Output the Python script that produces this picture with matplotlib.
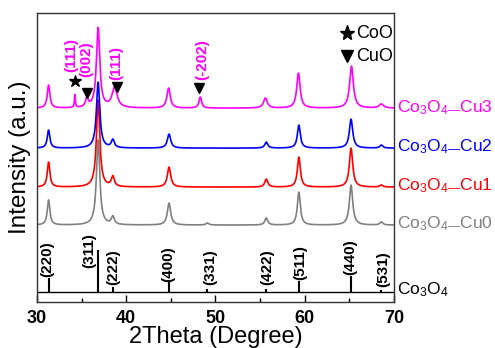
import numpy as np
import matplotlib
matplotlib.use('Agg')
import matplotlib.pyplot as plt

plt.rcParams['font.family'] = 'Liberation Sans'
plt.rcParams['mathtext.fontset'] = 'custom'
plt.rcParams['mathtext.rm'] = 'Liberation Sans'
plt.rcParams['mathtext.it'] = 'Liberation Sans:italic'

# peak lists: centre (2theta), height above baseline, FWHM
cu0_base = 77
cu0_pos = [31.3, 36.85, 38.5, 44.8, 49.1, 55.7, 59.35, 65.2, 68.6]
cu0_h = [25, 85, 8, 22, 2, 7, 33, 40, 3]
cu0_w = [0.35, 0.45, 0.4, 0.45, 0.4, 0.4, 0.4, 0.45, 0.4]

cu1_base = 115
cu1_pos = [31.3, 36.85, 38.5, 44.8, 55.7, 59.35, 65.2, 68.6]
cu1_h = [25, 87, 10, 20, 8, 30, 39, 2]
cu1_w = [0.35, 0.45, 0.4, 0.45, 0.4, 0.4, 0.45, 0.4]

cu2_base = 154
cu2_pos = [31.3, 36.85, 38.5, 44.8, 55.7, 59.35, 65.2, 68.6]
cu2_h = [18, 66, 8, 14, 6, 23, 29, 3]
cu2_w = [0.35, 0.45, 0.4, 0.45, 0.4, 0.4, 0.45, 0.4]

cu3_base = 194
cu3_pos = [31.3, 34.25, 35.6, 36.85, 38.7, 44.75, 48.3, 55.6, 59.3, 65.25, 68.6]
cu3_h = [23, 13, 9, 80, 20, 20, 11, 10, 35, 42, 4]
cu3_w = [0.35, 0.12, 0.35, 0.45, 0.7, 0.45, 0.35, 0.5, 0.45, 0.5, 0.6]

# Co3O4 reference pattern (sticks)
ref_base = 10
ref_pos = [31.3, 36.85, 38.5, 44.8, 49.1, 55.7, 59.35, 65.2, 68.6]
ref_h = [14, 42, 5, 12, 3, 3, 11, 16, 2]
ref_hkl = ['(220)', '(311)', '(222)', '(400)', '(331)', '(422)', '(511)', '(440)', '(531)']
ref_lab_x = [31.1, 35.9, 38.5, 44.7, 49.4, 55.8, 59.5, 65.1, 68.8]
ref_lab_y = [25, 34, 17, 20, 17, 17, 22, 27, 15]

# CoO / CuO peaks marked on Cu3
coo_pos = [34.3]
coo_y = [221]
cuo_pos = [35.6, 39.0, 48.2]
cuo_y = [209, 215, 214]
cu3_hkl = ['(111)', '(002)', '(111)', '(-202)']
cu3_lab_x = [33.8, 35.5, 38.9, 48.5]
cu3_lab_y = [230, 225, 222, 222]

names = [r'Co$_3$O$_{4—}$Cu0', r'Co$_3$O$_{4—}$Cu1', r'Co$_3$O$_{4—}$Cu2', r'Co$_3$O$_{4—}$Cu3']
colors = ['#808080', '#ff0000', '#0000ff', '#ff00ff']


def pattern(x, base, pos, h, w):
    y = np.full_like(x, float(base))
    for c, a, fw in zip(pos, h, w):
        y += a / (1 + ((x - c) / (fw / 2)) ** 2)
    return y


x = np.linspace(30, 70, 2000)
curves = [
    pattern(x, cu0_base, cu0_pos, cu0_h, cu0_w),
    pattern(x, cu1_base, cu1_pos, cu1_h, cu1_w),
    pattern(x, cu2_base, cu2_pos, cu2_h, cu2_w),
    pattern(x, cu3_base, cu3_pos, cu3_h, cu3_w),
]
bases = [cu0_base, cu1_base, cu2_base, cu3_base]

fig = plt.figure(figsize=(4.95, 3.48), dpi=100)
ax = fig.add_axes([0.0747, 0.132, 0.721, 0.830])

for y, col in zip(curves, colors):
    ax.plot(x, y, color=col, lw=1.2)

# reference sticks
ax.plot([30, 70], [ref_base, ref_base], color='black', lw=1)
ax.vlines(ref_pos, ref_base, [ref_base + h for h in ref_h], color='black', lw=1.5)
for t, lx, ly in zip(ref_hkl, ref_lab_x, ref_lab_y):
    ax.text(lx, ly, t, rotation=90, ha='center', va='bottom',
            fontsize=11, fontweight='bold', color='black')

# phase markers
ax.plot(coo_pos, coo_y, ls='none', marker='*', color='black', ms=9)
ax.plot(cuo_pos, cuo_y, ls='none', marker='v', color='black', ms=6.5)
for t, lx, ly in zip(cu3_hkl, cu3_lab_x, cu3_lab_y):
    ax.text(lx, ly, t, rotation=90, ha='center', va='bottom',
            fontsize=11, fontweight='bold', color='#ff00ff')

# little legend top right
ax.plot([64.8], [269], ls='none', marker='*', color='black', ms=11)
ax.text(65.8, 269, 'CoO', fontsize=13, va='center', ha='left')
ax.plot([64.8], [246], ls='none', marker='v', color='black', ms=8)
ax.text(65.8, 246, 'CuO', fontsize=13, va='center', ha='left')

# sample names on the right
for b, name, col in zip(bases, names, colors):
    ax.text(70.3, b + 1, name, color=col, fontsize=12.5, va='center', ha='left',
            clip_on=False)
ax.text(70.3, ref_base + 2, r'Co$_3$O$_4$', color='black', fontsize=12.5,
        va='center', ha='left', clip_on=False)

ax.set_xlim(30, 70)
ax.set_ylim(0, 289)
ax.set_yticks([])
ax.set_xticks([30, 40, 50, 60, 70])
ax.set_xticks([35, 45, 55, 65], minor=True)
ax.tick_params(axis='x', which='major', direction='in', length=5, width=1,
               labelsize=13, pad=6)
ax.tick_params(axis='x', which='minor', direction='in', length=3, width=1)
for lab in ax.get_xticklabels():
    lab.set_fontweight('bold')
for s in ax.spines.values():
    s.set_color('#333333')
    s.set_linewidth(1)

ax.set_xlabel('2Theta (Degree)', fontsize=17, labelpad=-1)
ax.set_ylabel('Intensity (a.u.)', fontsize=17.5, labelpad=4)

plt.savefig('out.png', dpi=100)
